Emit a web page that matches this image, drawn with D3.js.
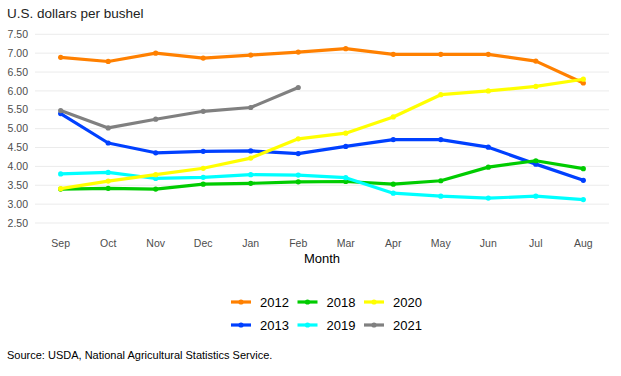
<!DOCTYPE html>
<html>
<head>
<meta charset="utf-8">
<script src="https://cdn.jsdelivr.net/npm/d3@7"></script>
<style>
  body { margin: 0; background: #fff; }
  svg { font-family: "Liberation Sans", Arial, sans-serif; display: block; }
</style>
</head>
<body>
<svg id="chart" width="621" height="376"></svg>
<script>
const months = ["Sep", "Oct", "Nov", "Dec", "Jan", "Feb", "Mar", "Apr", "May", "Jun", "Jul", "Aug"]
const yTicks = [2.5, 3, 3.5, 4, 4.5, 5, 5.5, 6, 6.5, 7, 7.5]

const years = ["2012", "2013", "2018", "2019", "2020", "2021"]
const colors = ["#ff8000", "#0040ff", "#00cc00", "#00ffff", "#ffff00", "#808080"]

const v2012 = [6.89, 6.78, 7.00, 6.87, 6.95, 7.03, 7.12, 6.97, 6.97, 6.97, 6.79, 6.21]
const v2013 = [5.40, 4.62, 4.36, 4.40, 4.41, 4.34, 4.53, 4.71, 4.71, 4.51, 4.06, 3.63]
const v2018 = [3.40, 3.42, 3.40, 3.53, 3.55, 3.59, 3.60, 3.53, 3.62, 3.98, 4.15, 3.94]
const v2019 = [3.80, 3.84, 3.68, 3.71, 3.78, 3.77, 3.70, 3.29, 3.21, 3.16, 3.21, 3.12]
const v2020 = [3.41, 3.61, 3.78, 3.95, 4.22, 4.73, 4.88, 5.31, 5.90, 6.00, 6.12, 6.31]
const v2021 = [5.48, 5.02, 5.25, 5.46, 5.56, 6.09]

const seriesValues = [v2012, v2013, v2018, v2019, v2020, v2021]

// panel edges
const panelLeft = 35, panelRight = 609

const svg = d3.select("#chart")

const x = d3.scalePoint()
    .domain(months)
    .range([panelLeft, panelRight])
    .padding(0.54)

const y = d3.scaleLinear()
    .domain([2.5, 7.5])
    .range([223, 34.3])

// gridlines
svg.append("g")
    .selectAll("line")
    .data(yTicks)
    .join("line")
    .attr("x1", panelLeft)
    .attr("x2", panelRight)
    .attr("y1", d => y(d))
    .attr("y2", d => y(d))
    .attr("stroke", "#ebebeb")
    .attr("stroke-width", 1)

// y tick labels
svg.append("g")
    .selectAll("text")
    .data(yTicks)
    .join("text")
    .attr("x", 28)
    .attr("y", d => y(d))
    .attr("dy", "0.35em")
    .attr("text-anchor", "end")
    .style("font-size", "10.5px")
    .style("fill", "#4d4d4d")
    .text(d => d3.format(".2f")(d))

// x tick labels
svg.append("g")
    .selectAll("text")
    .data(months)
    .join("text")
    .attr("x", d => x(d))
    .attr("y", 247)
    .attr("text-anchor", "middle")
    .style("font-size", "10.5px")
    .style("fill", "#4d4d4d")
    .text(d => d)

svg.append("text")
    .attr("x", (panelLeft + panelRight) / 2)
    .attr("y", 263)
    .attr("text-anchor", "middle")
    .style("font-size", "13px")
    .style("fill", "#000")
    .text("Month")

svg.append("text")
    .attr("x", 7)
    .attr("y", 18)
    .style("font-size", "13.5px")
    .style("fill", "#222")
    .text("U.S. dollars per bushel")

// lines
const line = d3.line()
    .x((d, i) => x(months[i]))
    .y(d => y(d))

const series = svg.append("g")
    .selectAll("g")
    .data(seriesValues)
    .join("g")

series.append("path")
    .attr("d", d => line(d))
    .attr("fill", "none")
    .attr("stroke", (d, i) => colors[i])
    .attr("stroke-width", 3.2)
    .attr("stroke-linejoin", "round")

series.each(function (vals, i) {
    d3.select(this).selectAll("circle")
        .data(vals)
        .join("circle")
        .attr("cx", (d, j) => x(months[j]))
        .attr("cy", d => y(d))
        .attr("r", 2.6)
        .attr("fill", colors[i])
})

// legend, filled by column like ggplot
const legend = svg.append("g")
    .selectAll("g")
    .data(years)
    .join("g")
    .attr("transform", (d, i) => `translate(${231 + Math.floor(i / 2) * 66.5}, ${i % 2 === 0 ? 302 : 325})`)

legend.append("line")
    .attr("x1", 0)
    .attr("x2", 20)
    .attr("stroke", (d, i) => colors[i])
    .attr("stroke-width", 3.2)

legend.append("circle")
    .attr("cx", 10)
    .attr("r", 2.6)
    .attr("fill", (d, i) => colors[i])

legend.append("text")
    .attr("x", 29)
    .attr("dy", "0.36em")
    .style("font-size", "13px")
    .style("fill", "#000")
    .text(d => d)

svg.append("text")
    .attr("x", 7)
    .attr("y", 359)
    .style("font-size", "11px")
    .style("fill", "#000")
    .text("Source: USDA, National Agricultural Statistics Service.")
</script>
</body>
</html>
